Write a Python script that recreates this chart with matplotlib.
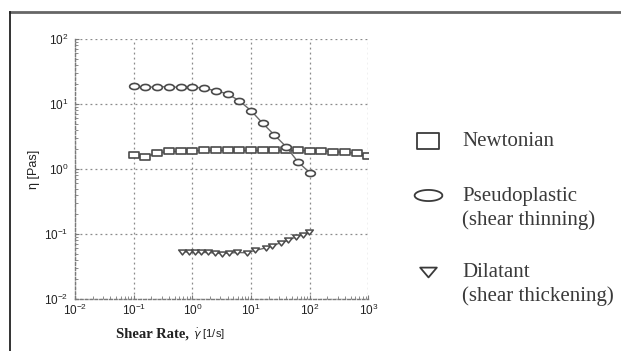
import numpy as np
import matplotlib
matplotlib.use("Agg")
import matplotlib.pyplot as plt
from matplotlib.path import Path
from matplotlib.lines import Line2D
from matplotlib.ticker import LogLocator, NullFormatter

# ---- data ----
newt_x = [0.1, 0.158, 0.251, 0.398, 0.631, 1.0, 1.58, 2.51, 3.98, 6.31, 10.0,
          15.8, 25.1, 39.8, 63.1, 100.0, 158.0, 251.0, 398.0, 631.0, 1000.0]
newt_y = [1.64, 1.55, 1.75, 1.87, 1.87, 1.90, 1.93, 1.93, 1.93, 1.93, 1.93,
          1.93, 1.93, 1.93, 1.93, 1.91, 1.91, 1.85, 1.80, 1.75, 1.58]

pseudo_x = [0.1, 0.158, 0.251, 0.398, 0.631, 1.0, 1.58, 2.51, 3.98, 6.31,
            10.0, 15.8, 25.1, 39.8, 63.1, 100.0]
pseudo_y = [18.9, 18.0, 18.4, 18.4, 18.0, 18.4, 17.4, 16.0, 14.3, 11.2,
            7.9, 5.05, 3.33, 2.2, 1.29, 0.88]

dil_x = [0.667, 0.865, 1.09, 1.43, 1.85, 2.4, 3.22, 4.29, 5.8, 8.55,
         11.7, 17.7, 23.0, 31.9, 43.3, 57.7, 76.9, 97.5]
dil_y = [0.053, 0.053, 0.052, 0.052, 0.052, 0.051, 0.050, 0.051, 0.052, 0.0515,
         0.056, 0.061, 0.0654, 0.0735, 0.080, 0.090, 0.0976, 0.107]

x_ticks = [1e-2, 1e-1, 1e0, 1e1, 1e2, 1e3]
y_ticks = [1e-2, 1e-1, 1e0, 1e1, 1e2]
legend_labels = ["Newtonian", "Pseudoplastic\n(shear thinning)", "Dilatant\n(shear thickening)"]

# ---- custom wide markers ----
rect = Path([(-0.8, -0.5), (0.8, -0.5), (0.8, 0.5), (-0.8, 0.5), (-0.8, -0.5)],
            [Path.MOVETO, Path.LINETO, Path.LINETO, Path.LINETO, Path.CLOSEPOLY])
rect_leg = Path([(-0.7, -0.5), (0.7, -0.5), (0.7, 0.5), (-0.7, 0.5), (-0.7, -0.5)],
                [Path.MOVETO, Path.LINETO, Path.LINETO, Path.LINETO, Path.CLOSEPOLY])
t = np.linspace(0, 2 * np.pi, 60)
ell = Path(np.column_stack([0.8 * np.cos(t), 0.5 * np.sin(t)]))
ell_leg = Path(np.column_stack([1.25 * np.cos(t), 0.5 * np.sin(t)]))
tri = Path([(-0.7, 0.45), (0.7, 0.45), (0.0, -0.45), (-0.7, 0.45)],
           [Path.MOVETO, Path.LINETO, Path.LINETO, Path.CLOSEPOLY])
tri_leg = Path([(-0.85, 0.5), (0.85, 0.5), (0.0, -0.5), (-0.85, 0.5)],
               [Path.MOVETO, Path.LINETO, Path.LINETO, Path.CLOSEPOLY])

fig = plt.figure(figsize=(6.21, 3.51), dpi=100)
ax = fig.add_axes([0.121, 0.148, 0.472, 0.741])

mec = "#4a4a4a"
lc = "#6a6a6a"
ax.plot(newt_x, newt_y, color=lc, lw=1.0, marker=rect, ms=7, mfc="white", mec=mec, mew=1.2, zorder=3)
ax.plot(pseudo_x, pseudo_y, color=lc, lw=1.0, marker=ell, ms=7, mfc="white", mec=mec, mew=1.2, zorder=3)
ax.plot(dil_x, dil_y, color=lc, lw=1.0, marker=tri, ms=5.5, mfc="white", mec=mec, mew=1.1, zorder=3)

ax.set_xscale("log")
ax.set_yscale("log")
ax.set_xlim(1e-2, 1e3)
ax.set_ylim(1e-2, 1e2)
ax.set_xticks(x_ticks)
ax.set_yticks(y_ticks)
ax.xaxis.set_minor_locator(LogLocator(base=10, subs=np.arange(2, 10)))
ax.yaxis.set_minor_locator(LogLocator(base=10, subs=np.arange(2, 10)))
ax.xaxis.set_minor_formatter(NullFormatter())
ax.yaxis.set_minor_formatter(NullFormatter())
ax.grid(True, which="major", linestyle=(0, (1.5, 2.5)), color="#8a8a8a", lw=0.9)
for s in ["top", "right"]:
    ax.spines[s].set_visible(False)
for s in ["left", "bottom"]:
    ax.spines[s].set_linestyle((0, (2, 1.5)))
    ax.spines[s].set_color("#7a7a7a")
    ax.spines[s].set_linewidth(1.0)
ax.tick_params(which="both", direction="in", color="#7a7a7a", labelsize=8.5,
               labelcolor="#222222")
ax.tick_params(axis="x", pad=3)
ax.tick_params(axis="y", pad=5)
ax.tick_params(which="major", length=3)
ax.tick_params(which="minor", length=2)
for lab in ax.get_xticklabels() + ax.get_yticklabels():
    lab.set_family("Liberation Sans")

ax.set_ylabel("η [Pas]", family="Liberation Sans", fontsize=9, color="#222222", labelpad=3)

# x label: bold serif part + sans part
fig.text(0.187, 0.037, "Shear Rate,", family="Liberation Serif", fontweight="bold",
         fontsize=10.5, color="#222222", ha="left", va="baseline")
fig.text(0.311, 0.037, r"$\dot{\gamma}$ [1/s]", family="Liberation Sans",
         fontsize=8, color="#222222", ha="left", va="baseline")

# legend (manual)
tc = "#3a3a3a"
markers_leg = [(rect_leg, 16, 0.598), (ell_leg, 20, 0.444), (tri_leg, 12, 0.225)]
for (mk, ms, yy) in markers_leg:
    fig.add_artist(Line2D([0.689], [yy], transform=fig.transFigure, marker=mk, ms=ms,
                          mfc="white", mec="#3a3a3a", mew=1.3, ls="none"))
fig.text(0.744, 0.598, legend_labels[0], family="Liberation Serif", fontsize=15,
         color=tc, va="center", ha="left")
fig.text(0.744, 0.406, legend_labels[1], family="Liberation Serif", fontsize=15,
         color=tc, va="center", ha="left", linespacing=1.3)
fig.text(0.744, 0.189, legend_labels[2], family="Liberation Serif", fontsize=15,
         color=tc, va="center", ha="left", linespacing=1.3)

# outer frame (top and left)
fig.add_artist(Line2D([0.016, 1.0], [0.966, 0.966], transform=fig.transFigure,
                      color="#666666", lw=2))
fig.add_artist(Line2D([0.016, 0.016], [0.0, 0.966], transform=fig.transFigure,
                      color="#222222", lw=1.3))

fig.savefig("out.png", dpi=100)
